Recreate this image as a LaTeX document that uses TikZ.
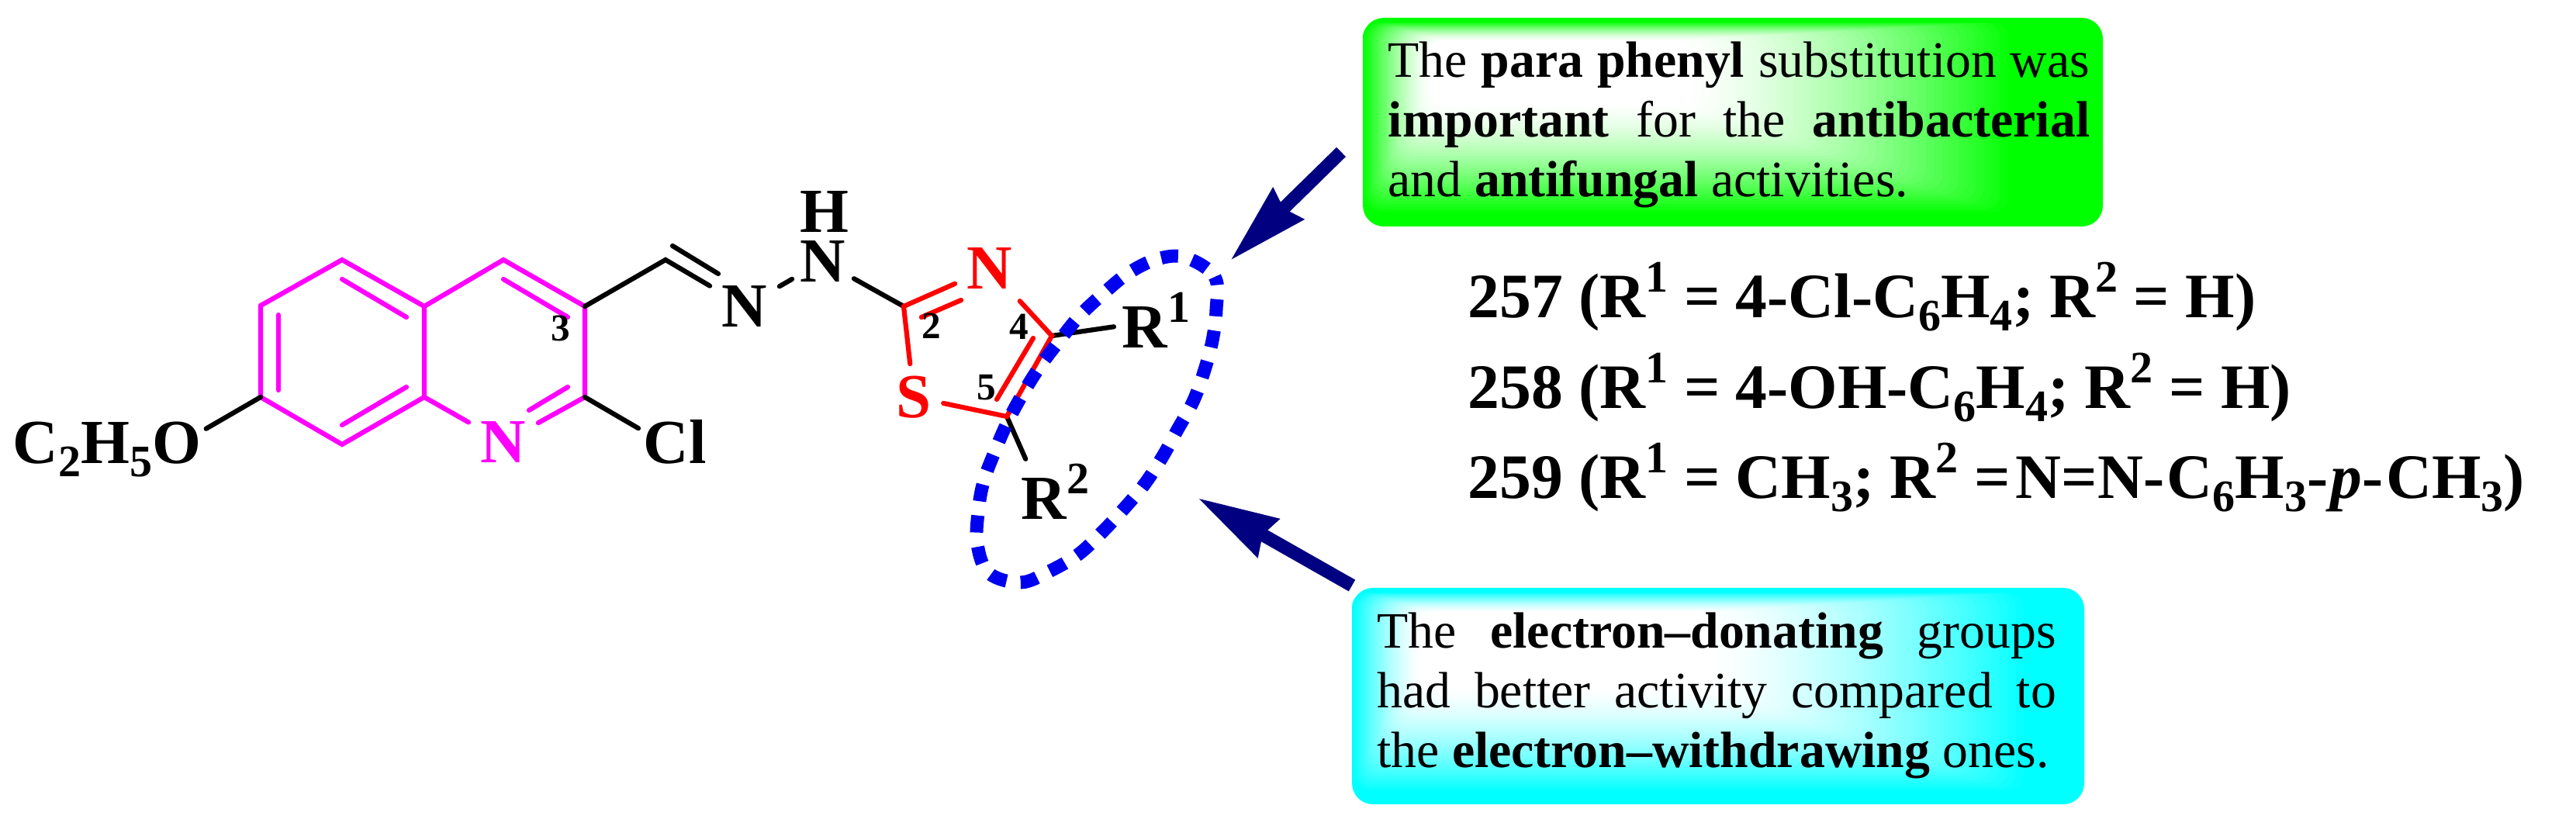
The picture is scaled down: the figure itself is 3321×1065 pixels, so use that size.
\documentclass[tikz,border=0pt]{standalone}
\usepackage{fontspec}
\setmainfont{Liberation Serif}
\usetikzlibrary{arrows.meta,positioning,calc}
\definecolor{ringpink}{RGB}{255,0,255}
\definecolor{ringred}{RGB}{255,0,0}
\definecolor{arrownavy}{RGB}{0,0,128}
\definecolor{ovalblue}{RGB}{0,0,240}
\definecolor{notegreen}{RGB}{0,255,0}
\definecolor{notecyan}{RGB}{0,255,255}
\newcommand{\supnum}[1]{\raisebox{9.4pt}{\fontsize{16.5}{16.5}\selectfont #1}}
\newcommand{\subnum}[1]{\raisebox{-4.8pt}{\fontsize{16.5}{16.5}\selectfont #1}}
\newcommand{\notefade}[9]{%
	\foreach \st in {0,...,40}{
		\pgfmathsetmacro{\fr}{\st/40}
		\pgfmathsetmacro{\mixpct}{100*(1-\fr)^1.5}
		\pgfmathsetmacro{\xa}{#2+(#6-#2)*\fr}
		\pgfmathsetmacro{\ya}{#3+(#7-#3)*\fr}
		\pgfmathsetmacro{\xb}{#4+(#8-#4)*\fr}
		\pgfmathsetmacro{\yb}{#5+(#9-#5)*\fr}
		\fill[#1!\mixpct!white, rounded corners=.2cm] (\xa,\ya) rectangle (\xb,\yb);
	}%
}
\tikzset{
	bond/.style={line width=.062cm, line cap=round},
	atom/.style={font=\fontsize{23}{23}\selectfont\bfseries, inner sep=.15cm},
	ringnum/.style={font=\fontsize{14}{14}\selectfont\bfseries, inner sep=0pt},
	notetext/.style={font=\fontsize{18.7}{21.8}\selectfont, inner sep=0pt, align=justify},
	listline/.style={font=\fontsize{23.2}{23.2}\selectfont\bfseries, inner sep=0pt, anchor=base west},
	notearrow/.style={arrownavy, line width=.17cm, -{Stealth[length=1.03cm, width=.54cm, inset=.07cm]}}
}

\begin{document}
\begin{tikzpicture}[x=.01cm, y=-.01cm]
	\useasboundingbox (0,0) rectangle (3321,1065);

	\coordinate (qa) at (336,394);
	\coordinate (qb) at (441,335);
	\coordinate (qc) at (547,395);
	\coordinate (qd) at (649,335);
	\coordinate (qe) at (754,395);
	\coordinate (qf) at (754,512);
	\coordinate (qg) at (547,512);
	\coordinate (qh) at (441,573);
	\coordinate (qi) at (336,512);
	\coordinate (ch) at (858,335);
	\coordinate (ta) at (1165,395);
	\coordinate (tb) at (1356,433);
	\coordinate (tc) at (1298,537);

	\node (atomQN) [atom, text=ringpink] at (649,570) {N};
	\node (atomCl) [atom, inner sep=.06cm, anchor=base west] at (823,598) {Cl};
	\node (atomOEt) [atom, inner sep=.06cm, anchor=base west] at (10,598) {C\subnum{2}H\subnum{5}O};
	\node (atomNa) [atom] at (960,395) {N};
	\node (atomNb) [atom, inner sep=.1cm] at (1061,337) {N};
	\node (atomH) [atom, inner sep=0pt] at (1063,273) {H};
	\node (atomTN) [atom, text=ringred] at (1276,346) {N};
	\node (atomS) [atom, text=ringred] at (1178,512) {S};
	\node (atomRa) [atom, inner sep=.1cm, anchor=base west] at (1436,449) {R\supnum{1}};
	\node (atomRb) [atom, inner sep=.06cm, anchor=base west] at (1310,670) {R\supnum{2}};

	\draw[bond, ringpink] (qa) -- (qb) -- (qc) -- (qd) -- (qe) -- (qf);
	\draw[bond, ringpink] (qc) -- (qg) -- (qh) -- (qi) -- (qa);
	\draw[bond, ringpink] (qg) -- (atomQN);
	\draw[bond, ringpink] (qf) -- (atomQN);
	\draw[bond, ringpink] (359,406) -- (359,503);
	\draw[bond, ringpink] (441,360) -- (524,409);
	\draw[bond, ringpink] (441,548) -- (524,499);
	\draw[bond, ringpink] (649,360) -- (732,409);
	\draw[bond, ringpink] (682,529) -- (732,499);

	\draw[bond] (qi) -- (atomOEt.12);
	\draw[bond] (qf) -- (atomCl.159);
	\draw[bond] (qe) -- (ch) -- (atomNa);
	\draw[bond] (867,317) -- (926,353);
	\draw[bond] (atomNa) -- (atomNb);
	\draw[bond] (atomNb) -- (ta);
	\draw[bond] (tb) -- (atomRa);
	\draw[bond] (tc) -- (atomRb.132);

	\draw[bond, ringred] (ta) -- (atomTN);
	\draw[bond, ringred] (1188,409) -- (1239,387);
	\draw[bond, ringred] (atomTN) -- (tb) -- (tc) -- (atomS) -- (ta);
	\draw[bond, ringred] (1332,436) -- (1285,515);

	\node (numThree) [ringnum] at (723,423) {3};
	\node (numTwo) [ringnum] at (1201,420) {2};
	\node (numFour) [ringnum] at (1314,421) {4};
	\node (numFive) [ringnum] at (1272,500) {5};

	\draw[ovalblue, line width=.17cm, dash pattern=on .22cm off .185cm, dash phase=.11cm]
		plot[smooth cycle, tension=.6] coordinates {(1528,332) (1566,357) (1568,399) (1563,439) (1552,480) (1538,518) (1518,554) (1498,590) (1475,625) (1448,657) (1420,687) (1390,715) (1354,736) (1316,751) (1275,739) (1260,702) (1261,661) (1268,621) (1283,581) (1299,544) (1319,507) (1341,472) (1366,439) (1392,407) (1423,378) (1455,352) (1492,334)};

	\fill[notegreen, rounded corners=.27cm] (1757,23) rectangle (2711,292);
	\notefade{notegreen}{1757}{28}{2600}{277}{1845}{53}{2174}{133}
	\node (paraNote) [notetext, text width=9.04cm] at (2242,161) {The \textbf{para phenyl} substitution was\linebreak \textbf{important} for the \textbf{antibacterial}\linebreak and \textbf{antifungal} activities.};

	\fill[notecyan, rounded corners=.27cm] (1743,758) rectangle (2687,1037);
	\notefade{notecyan}{1743}{763}{2619}{1023}{1832}{790}{2205}{887}
	\node (donorNote) [notetext, text width=8.75cm] at (2213,897) {The \textbf{electron--donating} groups\linebreak had better activity compared to\linebreak the \textbf{electron--withdrawing} ones.};

	\coordinate (paraTail) at (1729,196);
	\coordinate (paraTip) at (1586,336);
	\coordinate (donorTail) at (1743,755);
	\coordinate (donorTip) at (1544,642);
	\draw[notearrow] (paraTail) -- (paraTip);
	\draw[notearrow] (donorTail) -- (donorTip);

	\node (lineA) [listline] at (1892,410) {257 (R\supnum{1} = 4-Cl-C\subnum{6}H\subnum{4}; R\supnum{2} = H)};
	\node (lineB) [listline] at (1892,527) {258 (R\supnum{1} = 4-OH-C\subnum{6}H\subnum{4}; R\supnum{2} = H)};
	\node (lineC) [listline] at (1892,643) {259 (R\supnum{1} = CH\subnum{3}; R\supnum{2} =\kern2pt N=N-\kern1pt C\subnum{6}H\subnum{3}-\kern1pt\textit{p}-\kern1pt CH\subnum{3})};
\end{tikzpicture}
\end{document}
